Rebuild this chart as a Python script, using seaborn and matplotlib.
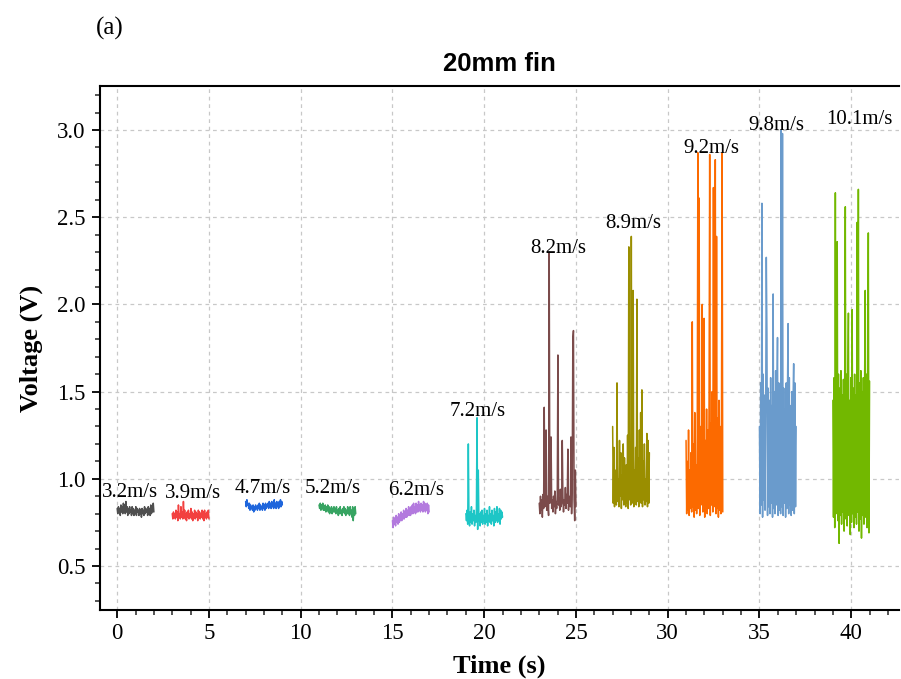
import numpy as np
import pandas as pd
import matplotlib
matplotlib.use("Agg")
import matplotlib.pyplot as plt
from matplotlib.ticker import MultipleLocator
import seaborn as sns

# Wind speed of each recording and the time (s) at which each 2 s record starts
speeds = ["3.2m/s", "3.9m/s", "4.7m/s", "5.2m/s", "6.2m/s", "7.2m/s",
          "8.2m/s", "8.9m/s", "9.2m/s", "9.8m/s", "10.1m/s"]
starts = [0, 3, 7, 11, 15, 19, 23, 27, 31, 35, 39]
duration = 2.0

# Sampled output voltage (V) for every wind speed
v_3_2 = [0.83, 0.80, 0.84, 0.81, 0.83, 0.79, 0.85, 0.81, 0.84, 0.80,
         0.86, 0.82, 0.85, 0.80, 0.87, 0.81, 0.84, 0.79, 0.83, 0.80,
         0.84, 0.81, 0.82, 0.79, 0.84, 0.80, 0.83, 0.79, 0.82, 0.80,
         0.84, 0.79, 0.83, 0.81, 0.82, 0.79, 0.83, 0.80, 0.82, 0.78,
         0.83, 0.80, 0.82, 0.79, 0.84, 0.80, 0.83, 0.81, 0.82, 0.79,
         0.84, 0.80, 0.83, 0.79, 0.85, 0.80, 0.84, 0.81, 0.86, 0.81]
v_3_9 = [0.80, 0.77, 0.81, 0.78, 0.80, 0.77, 0.82, 0.78, 0.81, 0.76,
         0.85, 0.78, 0.80, 0.77, 0.84, 0.78, 0.81, 0.77, 0.87, 0.78,
         0.82, 0.77, 0.80, 0.76, 0.81, 0.78, 0.82, 0.77, 0.80, 0.78,
         0.83, 0.77, 0.81, 0.76, 0.80, 0.78, 0.82, 0.77, 0.81, 0.78,
         0.80, 0.76, 0.82, 0.78, 0.81, 0.77, 0.80, 0.78, 0.82, 0.77,
         0.81, 0.76, 0.82, 0.78, 0.80, 0.77, 0.81, 0.78, 0.82, 0.77]
v_4_7 = [0.87, 0.84, 0.88, 0.85, 0.86, 0.83, 0.86, 0.82, 0.85, 0.83,
         0.84, 0.82, 0.85, 0.81, 0.84, 0.82, 0.85, 0.83, 0.84, 0.82,
         0.85, 0.83, 0.86, 0.82, 0.85, 0.83, 0.84, 0.82, 0.86, 0.83,
         0.85, 0.82, 0.86, 0.83, 0.85, 0.84, 0.86, 0.83, 0.87, 0.84,
         0.86, 0.83, 0.87, 0.84, 0.86, 0.83, 0.88, 0.84, 0.86, 0.83,
         0.87, 0.84, 0.86, 0.83, 0.87, 0.84, 0.88, 0.84, 0.87, 0.85]
v_5_2 = [0.85, 0.83, 0.86, 0.82, 0.85, 0.83, 0.86, 0.82, 0.84, 0.82,
         0.85, 0.81, 0.84, 0.82, 0.85, 0.81, 0.84, 0.80, 0.83, 0.81,
         0.84, 0.80, 0.83, 0.81, 0.84, 0.81, 0.83, 0.80, 0.84, 0.81,
         0.82, 0.79, 0.83, 0.80, 0.84, 0.80, 0.82, 0.79, 0.83, 0.81,
         0.84, 0.80, 0.83, 0.79, 0.82, 0.80, 0.84, 0.80, 0.83, 0.79,
         0.84, 0.80, 0.82, 0.78, 0.84, 0.76, 0.83, 0.79, 0.84, 0.80]
v_6_2 = [0.76, 0.72, 0.78, 0.74, 0.77, 0.73, 0.79, 0.75, 0.78, 0.74,
         0.80, 0.75, 0.79, 0.76, 0.81, 0.76, 0.80, 0.77, 0.82, 0.77,
         0.81, 0.78, 0.83, 0.78, 0.82, 0.79, 0.84, 0.79, 0.83, 0.79,
         0.84, 0.80, 0.85, 0.80, 0.86, 0.81, 0.84, 0.80, 0.86, 0.81,
         0.85, 0.81, 0.87, 0.82, 0.85, 0.81, 0.86, 0.82, 0.85, 0.81,
         0.87, 0.82, 0.86, 0.81, 0.85, 0.82, 0.86, 0.80, 0.85, 0.81]
v_7_2 = [0.80, 0.76, 0.82, 0.74, 1.20, 0.77, 0.73, 0.81, 0.75, 0.84,
         0.74, 0.80, 0.76, 0.82, 0.73, 0.79, 0.75, 0.83, 1.35, 0.71,
         1.05, 0.76, 0.80, 0.73, 0.81, 0.75, 0.82, 0.74, 0.79, 0.76,
         0.83, 0.74, 0.80, 0.75, 0.82, 0.73, 0.79, 0.76, 0.84, 0.75,
         0.80, 0.74, 0.82, 0.76, 0.79, 0.73, 0.83, 0.75, 0.81, 0.76,
         0.84, 0.75, 0.80, 0.76, 0.83, 0.74, 0.82, 0.77, 0.81, 0.78]
v_8_2 = [0.86, 0.80, 0.90, 0.82, 0.88, 0.78, 0.91, 0.83, 1.41, 0.84,
         0.89, 1.28, 0.82, 0.90, 0.85, 0.79, 2.30, 0.86, 0.92, 1.24,
         0.83, 0.88, 0.81, 0.90, 0.84, 0.93, 0.80, 0.87, 0.83, 0.91,
         1.71, 0.85, 0.89, 0.82, 0.94, 0.84, 0.86, 1.22, 0.90, 0.81,
         0.88, 0.85, 0.95, 0.83, 0.91, 0.86, 1.17, 0.82, 0.90, 0.87,
         0.84, 1.24, 0.80, 0.96, 1.80, 1.85, 0.88, 0.76, 1.05, 0.84]
v_8_9 = [1.30, 0.86, 1.18, 0.84, 1.05, 0.88, 0.85, 1.55, 0.87, 1.00,
         0.84, 1.22, 0.90, 1.15, 0.83, 1.02, 0.88, 1.20, 0.85, 1.12,
         0.92, 0.84, 1.08, 0.86, 1.25, 0.83, 2.33, 0.88, 1.10, 0.85,
         2.39, 0.86, 1.30, 2.08, 0.84, 1.05, 0.89, 1.18, 0.85, 2.03,
         0.87, 1.12, 0.84, 1.28, 0.88, 1.38, 0.86, 1.51, 0.84, 1.10,
         0.88, 1.20, 0.85, 1.00, 0.87, 1.26, 0.84, 1.22, 0.86, 1.15]
v_9_2 = [1.22, 0.80, 1.10, 0.82, 1.28, 0.79, 1.05, 0.83, 1.15, 0.81,
         1.90, 0.84, 1.20, 0.78, 1.38, 0.82, 1.08, 0.80, 1.25, 2.87,
         0.83, 2.61, 0.79, 1.30, 0.85, 1.12, 2.00, 0.81, 1.35, 1.92,
         0.78, 1.22, 0.84, 1.40, 0.80, 1.28, 0.83, 1.45, 2.86, 0.79,
         1.32, 0.85, 1.50, 0.81, 2.67, 0.84, 1.42, 2.83, 0.80, 2.39,
         0.83, 1.35, 0.78, 1.45, 0.82, 1.30, 0.80, 1.40, 2.87, 0.81]
v_9_8 = [1.30, 0.80, 1.55, 0.85, 2.58, 0.78, 1.60, 0.88, 1.48, 0.82,
         1.40, 2.27, 1.83, 0.79, 1.52, 0.84, 1.45, 0.80, 1.58, 0.86,
         1.42, 0.78, 2.06, 0.83, 1.50, 0.80, 1.62, 0.85, 1.45, 1.81,
         0.79, 1.55, 0.82, 1.38, 0.80, 3.00, 0.84, 2.98, 0.79, 1.52,
         0.86, 1.40, 0.78, 1.55, 0.83, 1.48, 1.89, 0.80, 1.58, 0.85,
         1.42, 0.79, 1.50, 0.82, 1.45, 1.66, 0.80, 1.55, 0.84, 1.30]
v_10_1 = [1.45, 0.78, 1.58, 0.72, 2.64, 0.80, 1.55, 2.36, 0.76, 1.60,
          0.63, 1.52, 0.79, 1.62, 0.74, 1.48, 0.81, 1.57, 0.70, 1.50,
          2.56, 0.77, 1.60, 0.73, 1.55, 1.95, 0.79, 1.45, 0.68, 1.58,
          0.75, 1.97, 0.80, 1.52, 0.72, 1.60, 0.78, 1.48, 0.74, 2.47,
          0.81, 2.66, 0.70, 1.55, 0.77, 1.62, 0.66, 1.50, 0.79, 1.58,
          0.74, 1.53, 2.08, 0.78, 1.60, 0.72, 1.55, 2.41, 0.69, 1.56]
voltages = [v_3_2, v_3_9, v_4_7, v_5_2, v_6_2, v_7_2,
            v_8_2, v_8_9, v_9_2, v_9_8, v_10_1]

colors = ["#4f4f4f", "#f2403f", "#1f66dc", "#37a462", "#b37ade", "#1dc6c6",
          "#7b4b4b", "#9a8e00", "#fc6a00", "#6a9bcc", "#72b800"]

# Speed label placement (time, voltage) above each record
label_x = [0.72, 4.14, 7.93, 11.77, 16.29, 19.67, 24.06, 28.12, 32.37, 35.91, 40.46]
label_y = [0.896, 0.890, 0.918, 0.918, 0.907, 1.36, 2.295, 2.438, 2.868, 3.0, 3.034]

# Long-form table: one row per sample
frames = []
for spd, t0, v in zip(speeds, starts, voltages):
    t = t0 + np.linspace(0.0, duration, len(v))
    frames.append(pd.DataFrame({"time": t, "voltage": v, "speed": spd}))
df = pd.concat(frames, ignore_index=True)

sns.set_theme(style="ticks")
plt.rcParams["font.family"] = ["Liberation Serif", "DejaVu Serif"]
plt.rcParams["mathtext.fontset"] = "stix"
plt.rcParams["text.color"] = "black"
plt.rcParams["axes.labelcolor"] = "black"
plt.rcParams["axes.titlecolor"] = "black"

fig = plt.figure(figsize=(9.01, 6.79), dpi=100)
ax = fig.add_axes([0.1107, 0.1022, 0.887, 0.7705])

sns.lineplot(data=df, x="time", y="voltage", hue="speed", hue_order=speeds,
             palette=dict(zip(speeds, colors)), estimator=None, sort=False,
             linewidth=1.1, legend=False, ax=ax)

for spd, x, y in zip(speeds, label_x, label_y):
    ax.text(x, y, spd, ha="center", va="baseline", fontsize=15,
            family=["Liberation Serif", "DejaVu Serif"], color="black", zorder=5)

ax.set_xlim(-0.95, 42.6)
ax.set_ylim(0.25, 3.25)
ax.xaxis.set_major_locator(MultipleLocator(5))
ax.xaxis.set_minor_locator(MultipleLocator(1))
ax.yaxis.set_major_locator(MultipleLocator(0.5))
ax.yaxis.set_minor_locator(MultipleLocator(0.1))
ax.yaxis.set_major_formatter(matplotlib.ticker.FormatStrFormatter("%.1f"))

ax.grid(True, which="major", color="#c8c8c8", linestyle=(0, (3, 3)), linewidth=0.9)
ax.set_axisbelow(True)

for side in ["left", "bottom", "top"]:
    ax.spines[side].set_linewidth(1.5)
    ax.spines[side].set_color("black")
ax.spines["right"].set_visible(False)

ax.tick_params(axis="both", which="major", direction="out", length=6, width=1.3,
               labelsize=16.5, colors="black", top=False, right=False, pad=4)
ax.tick_params(axis="both", which="minor", direction="out", length=3.5, width=1.1,
               top=False, right=False)

ax.set_xlabel("Time (s)", fontsize=19, fontweight="bold", labelpad=7)
ax.set_ylabel("Voltage (V)", fontsize=19, fontweight="bold", labelpad=10)
ax.set_title("20mm fin", fontsize=18.5, fontweight="bold",
             family=["Liberation Sans", "DejaVu Sans"], pad=11)

fig.text(110 / 901, 1 - 28 / 679, "(a)", fontsize=18, ha="center", va="center",
         family=["Liberation Serif", "DejaVu Serif"])

fig.savefig("out.png", dpi=100)
